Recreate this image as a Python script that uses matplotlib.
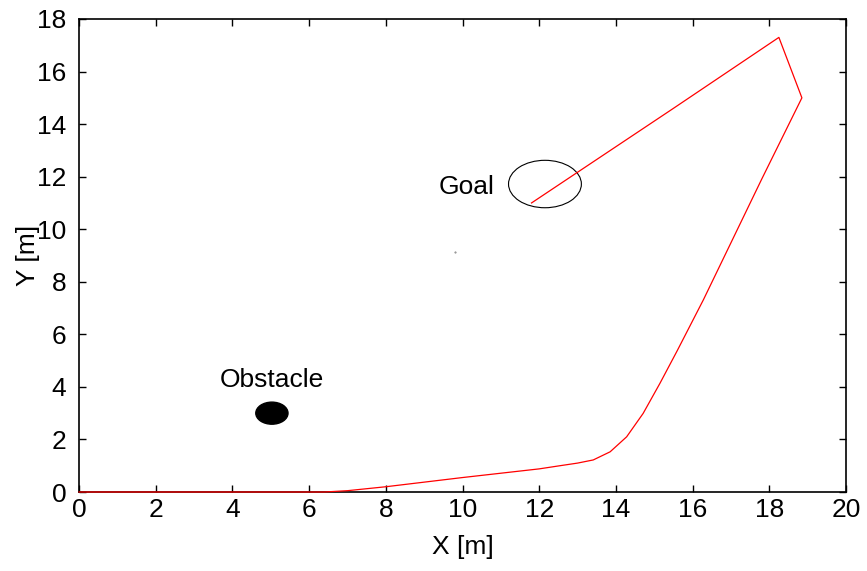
import matplotlib
matplotlib.use("Agg")
import matplotlib.pyplot as plt
from matplotlib.patches import Ellipse

plt.rcParams['font.family'] = ['Liberation Sans', 'DejaVu Sans']

path_x = [0, 6.4, 7.0, 8.0, 10.0, 12.0, 12.54, 13.0, 13.41, 13.85, 14.28, 14.71, 15.15, 15.6, 16.28, 17.8, 18.85, 18.25, 15.5, 11.8]
path_y = [0, 0, 0.05, 0.2, 0.55, 0.88, 1.0, 1.1, 1.22, 1.53, 2.10, 2.99, 4.14, 5.38, 7.31, 11.9, 15.0, 17.3, 14.6, 11.0]

goal_center = (12.15, 11.72)
goal_radius = 0.95
obstacle_center = (5.03, 3.0)
obstacle_radius = 0.42
stray_point = (9.8, 9.13)

fig = plt.figure(figsize=(8.67, 5.71), dpi=100)
ax = fig.add_axes([79/867, 1-492/571, (846-79)/867, (492-19)/571])

ax.plot(path_x, path_y, color='red', lw=0.9, clip_on=False, zorder=5)
ax.add_patch(Ellipse(goal_center, 2*goal_radius, 2*goal_radius*0.95, fill=False, edgecolor='black', lw=0.8))
ax.add_patch(Ellipse(obstacle_center, 2*obstacle_radius, 2*obstacle_radius, facecolor='black', edgecolor='black'))
ax.plot([stray_point[0]], [stray_point[1]], marker='.', ms=1, color='gray')

ax.text(10.1, 11.6, 'Goal', fontsize=19, ha='center', va='center')
ax.text(5.03, 4.26, 'Obstacle', fontsize=19, ha='center', va='center')

ax.set_xlim(0, 20)
ax.set_ylim(0, 18)
ax.set_xticks(range(0, 21, 2))
ax.set_yticks(range(0, 19, 2))
ax.tick_params(direction='in', top=True, right=True, labelsize=19, length=5, width=1)
ax.tick_params(axis='x', pad=4)
ax.tick_params(axis='y', pad=9)
for s in ax.spines.values():
    s.set_linewidth(1.2)
ax.set_xlabel('X [m]', fontsize=19, labelpad=10)
ax.set_ylabel('Y [m]', fontsize=19, labelpad=-2)

fig.savefig('out.png', dpi=100)
